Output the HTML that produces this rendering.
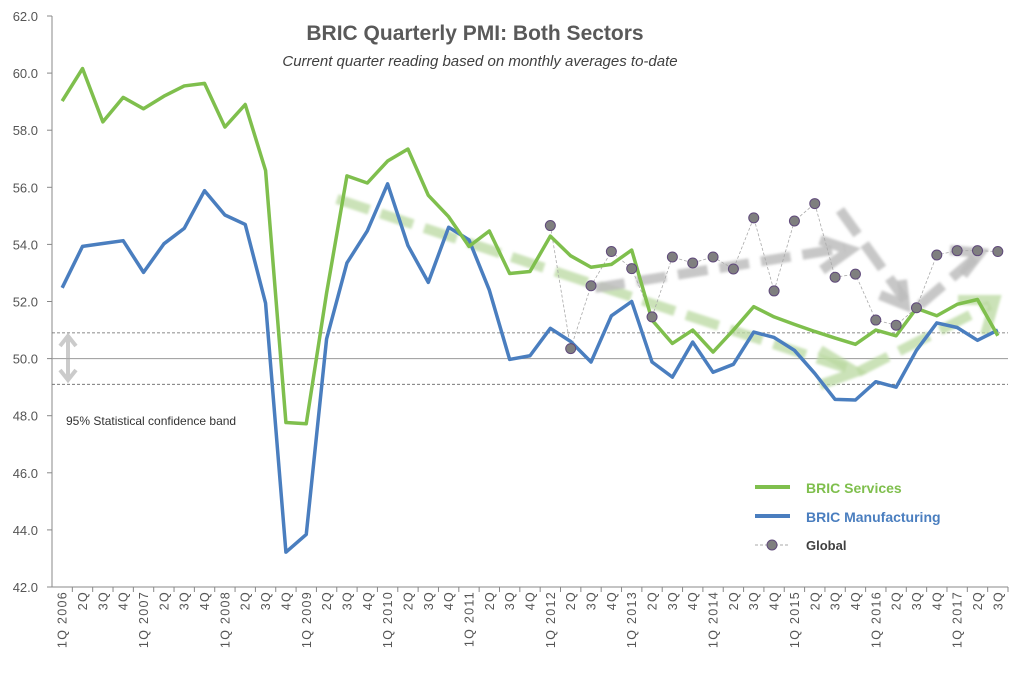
<!DOCTYPE html>
<html><head><meta charset="utf-8"><style>
body{margin:0;background:#fff;}
svg{font-family:"Liberation Sans",sans-serif;}
</style></head><body>
<svg id="chart" width="1024" height="670" viewBox="0 0 1024 670">
<defs>
<filter id="blur" x="-10%" y="-10%" width="120%" height="120%"><feGaussianBlur stdDeviation="1.2"/></filter>
</defs>
<text x="475" y="40" text-anchor="middle" font-size="21" font-weight="bold" fill="#595959">BRIC Quarterly PMI: Both Sectors</text>
<text x="480" y="66" text-anchor="middle" font-size="15" font-style="italic" fill="#404040">Current quarter reading based on monthly averages to-date</text>
<g id="grid"></g>
<g id="trends" filter="url(#blur)">
<polyline points="337,199 846,368" fill="none" stroke="#b9d8a0" stroke-width="10" stroke-dasharray="34,12" opacity="0.75"/>
<polyline points="820,350 856,372 820,385" fill="none" stroke="#b9d8a0" stroke-width="10" opacity="0.75"/>
<polyline points="858,372 990,305" fill="none" stroke="#b9d8a0" stroke-width="10" stroke-dasharray="34,12" opacity="0.75"/>
<polyline points="958,300 995,300 985,335" fill="none" stroke="#b9d8a0" stroke-width="10" opacity="0.75"/>
<polyline points="595,288 845,248" fill="none" stroke="#bdbdbd" stroke-width="10" stroke-dasharray="30,12" opacity="0.85"/>
<polyline points="820,240 850,250 822,270" fill="none" stroke="#bdbdbd" stroke-width="10" opacity="0.85"/>
<polyline points="840,210 905,300" fill="none" stroke="#bdbdbd" stroke-width="10" stroke-dasharray="30,12" opacity="0.85"/>
<polyline points="880,295 905,305 902,280" fill="none" stroke="#bdbdbd" stroke-width="10" opacity="0.85"/>
<polyline points="920,305 975,258" fill="none" stroke="#bdbdbd" stroke-width="10" stroke-dasharray="30,12" opacity="0.85"/>
<polyline points="950,250 980,253 963,275" fill="none" stroke="#bdbdbd" stroke-width="10" opacity="0.85"/>
</g>
<g id="series"></g>
<g opacity="0.6">
<line x1="68" y1="338" x2="68" y2="378" stroke="#aaa" stroke-width="4"/>
<polyline points="60,346 68,336 76,346" fill="none" stroke="#aaa" stroke-width="4"/>
<polyline points="60,370 68,380 76,370" fill="none" stroke="#aaa" stroke-width="4"/>
</g>
<text x="66" y="425" font-size="12" fill="#333">95% Statistical  confidence band</text>
<g>
<g><line x1="755" y1="487" x2="790" y2="487" stroke="#7fbf4d" stroke-width="4"/><text x="806" y="493" font-size="14" font-weight="bold" fill="#7fbf4d">BRIC Services</text></g>
<g><line x1="755" y1="516" x2="790" y2="516" stroke="#4a7ebf" stroke-width="4"/><text x="806" y="522" font-size="14" font-weight="bold" fill="#4a7ebf">BRIC Manufacturing</text></g>
<g><line x1="755" y1="545" x2="790" y2="545" stroke="#aaa" stroke-width="1" stroke-dasharray="3,2"/><circle cx="772" cy="545" r="5" fill="#7f7f7f" stroke="#604a7b"/><text x="806" y="550" font-size="13" font-weight="bold" fill="#404040">Global</text></g>
</g>
</svg>
<script>
const categories=[];
for(let y=2006;y<=2017;y++){for(let q=1;q<=4;q++){if(y===2017&&q===4)break;categories.push(q===1?'1Q '+y:q+'Q');}}
const services=[59.02,60.16,58.29,59.15,58.75,59.19,59.55,59.64,58.11,58.9,56.59,47.76,47.72,52.3,56.4,56.15,56.92,57.34,55.72,54.97,53.93,54.47,52.98,53.05,54.29,53.6,53.2,53.3,53.8,51.35,50.53,51.0,50.23,51.0,51.82,51.46,51.2,50.95,50.72,50.5,51.0,50.8,51.76,51.5,51.9,52.07,50.8];
const manufacturing=[52.48,53.93,54.03,54.13,53.02,54.02,54.56,55.88,55.03,54.7,51.94,43.22,43.84,50.69,53.35,54.47,56.12,53.96,52.67,54.6,54.16,52.4,49.97,50.1,51.06,50.6,49.88,51.5,52.0,49.88,49.35,50.58,49.52,49.8,50.93,50.74,50.29,49.48,48.57,48.55,49.19,49.0,50.29,51.25,51.09,50.64,51.0];
const globalPmi=[null,null,null,null,null,null,null,null,null,null,null,null,null,null,null,null,null,null,null,null,null,null,null,null,54.66,50.35,52.55,53.75,53.15,51.46,53.56,53.35,53.56,53.14,54.93,52.37,54.82,55.43,52.85,52.96,51.35,51.17,51.78,53.63,53.78,53.78,53.75];
const yTicks=[42,44,46,48,50,52,54,56,58,60,62];
const bandValues=[50.9,49.1];
const NS='http://www.w3.org/2000/svg';
const x0=52,x1=1008,y0=587,yTop=16,yMin=42,yMax=62;
const step=(x1-x0)/categories.length;
const xs=i=>x0+step*(i+0.5);
const ys=v=>y0-(v-yMin)/(yMax-yMin)*(y0-yTop);
function mk(tag,attrs,parent){const e=document.createElementNS(NS,tag);for(const k in attrs)e.setAttribute(k,attrs[k]);parent.appendChild(e);return e;}
const grid=document.getElementById('grid');
let e=mk('line',{x1:x0,y1:yTop,x2:x0,y2:y0,stroke:'#888'},grid);


e=mk('line',{x1:x0,y1:y0,x2:x1,y2:y0,stroke:'#888'},grid);


yTicks.forEach(v=>{
  mk('line',{x1:x0-5,y1:ys(v),x2:x0,y2:ys(v),stroke:'#888'},grid);
  const t=mk('text',{x:x0-14,y:ys(v)+5,'text-anchor':'end','font-size':13,fill:'#555'},grid);
  t.textContent=v.toFixed(1);
  
  
});
e=mk('line',{x1:x0,y1:ys(50),x2:x1,y2:ys(50),stroke:'#999'},grid);


bandValues.forEach(v=>{
  const l=mk('line',{x1:x0,y1:ys(v),x2:x1,y2:ys(v),stroke:'#666','stroke-dasharray':'3,2','stroke-width':0.8},grid);
  
  
});
categories.forEach((c,i)=>{
  mk('line',{x1:x0+step*(i+1),y1:y0,x2:x0+step*(i+1),y2:y0+5,stroke:'#888'},grid);
  const t=mk('text',{transform:`translate(${xs(i)+4.5},${y0+4}) rotate(-90)`,'text-anchor':'end','font-size':12.5,'letter-spacing':1.3,fill:'#555'},grid);
  t.textContent=c;
  
  
});
const g=document.getElementById('series');
function pts(arr){return arr.map((v,i)=>v==null?null:xs(i)+','+ys(v)).filter(p=>p).join(' ');}
let p=mk('polyline',{points:pts(globalPmi),fill:'none',stroke:'#aaa','stroke-width':0.8,'stroke-dasharray':'3,2'},g);


p=mk('polyline',{points:pts(manufacturing),fill:'none',stroke:'#4a7ebf','stroke-width':3.5,'stroke-linejoin':'round'},g);


p=mk('polyline',{points:pts(services),fill:'none',stroke:'#7fbf4d','stroke-width':3.5,'stroke-linejoin':'round'},g);


globalPmi.forEach((v,i)=>{if(v==null)return;
  const c=mk('circle',{cx:xs(i),cy:ys(v),r:5,fill:'#7f7f7f',stroke:'#604a7b','stroke-width':1},g);
  
  
});
</script>
</body></html>
